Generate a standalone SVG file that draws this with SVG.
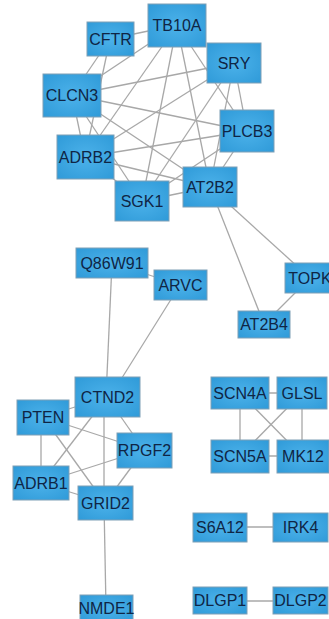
<svg xmlns="http://www.w3.org/2000/svg" width="329" height="619" viewBox="0 0 329 619">
<defs>
<radialGradient id="nf" cx="50%" cy="50%" r="70%">
<stop offset="0" stop-color="#4cb2ea"/>
<stop offset="1" stop-color="#2f9ad8"/>
</radialGradient>
<style>
.n rect{fill:url(#nf);stroke:#7f9fb6;stroke-width:1}
.n text{font-family:"Liberation Sans",Arial,sans-serif;font-size:16px;fill:#0f2545;text-anchor:middle}
#edges line{stroke:#a8a8a8;stroke-width:1.3}
</style>
</defs>
<rect width="329" height="619" fill="#ffffff"/>
<g id="edges">
<line x1="110" y1="39" x2="177" y2="25"/>
<line x1="110" y1="39" x2="72" y2="95"/>
<line x1="110" y1="39" x2="85" y2="157"/>
<line x1="177" y1="25" x2="72" y2="95"/>
<line x1="177" y1="25" x2="85" y2="157"/>
<line x1="177" y1="25" x2="142" y2="201"/>
<line x1="177" y1="25" x2="210" y2="187"/>
<line x1="177" y1="25" x2="247" y2="131"/>
<line x1="234" y1="63" x2="72" y2="95"/>
<line x1="234" y1="63" x2="85" y2="157"/>
<line x1="234" y1="63" x2="142" y2="201"/>
<line x1="234" y1="63" x2="210" y2="187"/>
<line x1="234" y1="63" x2="247" y2="131"/>
<line x1="72" y1="95" x2="247" y2="131"/>
<line x1="72" y1="95" x2="210" y2="187"/>
<line x1="72" y1="95" x2="85" y2="157"/>
<line x1="72" y1="95" x2="142" y2="201"/>
<line x1="247" y1="131" x2="85" y2="157"/>
<line x1="247" y1="131" x2="142" y2="201"/>
<line x1="247" y1="131" x2="210" y2="187"/>
<line x1="85" y1="157" x2="210" y2="187"/>
<line x1="85" y1="157" x2="142" y2="201"/>
<line x1="142" y1="201" x2="210" y2="187"/>
<line x1="210" y1="187" x2="264" y2="324"/>
<line x1="210" y1="187" x2="310" y2="278"/>
<line x1="264" y1="324" x2="310" y2="278"/>
<line x1="112" y1="263" x2="180" y2="285"/>
<line x1="112" y1="263" x2="106" y2="397"/>
<line x1="180" y1="285" x2="110" y2="397"/>
<line x1="107" y1="397" x2="43" y2="417"/>
<line x1="107" y1="397" x2="144" y2="450"/>
<line x1="104" y1="397" x2="104" y2="503"/>
<line x1="107" y1="397" x2="41" y2="483"/>
<line x1="43" y1="417" x2="144" y2="450"/>
<line x1="41" y1="417" x2="41" y2="483"/>
<line x1="43" y1="417" x2="105" y2="503"/>
<line x1="41" y1="483" x2="144" y2="450"/>
<line x1="41" y1="483" x2="105" y2="503"/>
<line x1="144" y1="450" x2="105" y2="503"/>
<line x1="104" y1="503" x2="106" y2="608"/>
<line x1="240" y1="393" x2="302" y2="393"/>
<line x1="240" y1="393" x2="240" y2="456"/>
<line x1="302" y1="393" x2="302" y2="456"/>
<line x1="240" y1="456" x2="302" y2="456"/>
<line x1="240" y1="393" x2="302" y2="456"/>
<line x1="302" y1="393" x2="240" y2="456"/>
<line x1="220" y1="527" x2="300" y2="527"/>
<line x1="220" y1="601" x2="300" y2="601"/>
</g>
<g id="TB10A" class="n"><rect x="148" y="4" width="58" height="43"/><text x="177" y="31">TB10A</text></g>
<g id="CFTR" class="n"><rect x="87" y="22" width="47" height="34"/><text x="110.5" y="45">CFTR</text></g>
<g id="SRY" class="n"><rect x="207" y="43" width="54" height="40"/><text x="234" y="69">SRY</text></g>
<g id="CLCN3" class="n"><rect x="43" y="74" width="58" height="43"/><text x="72" y="101">CLCN3</text></g>
<g id="PLCB3" class="n"><rect x="220" y="110" width="54" height="42"/><text x="247" y="137">PLCB3</text></g>
<g id="ADRB2" class="n"><rect x="57" y="135" width="57" height="44"/><text x="85.5" y="163">ADRB2</text></g>
<g id="AT2B2" class="n"><rect x="183" y="167" width="54" height="40"/><text x="210" y="193">AT2B2</text></g>
<g id="SGK1" class="n"><rect x="115" y="181" width="54" height="40"/><text x="142" y="207">SGK1</text></g>
<g id="Q86W91" class="n"><rect x="76" y="248" width="72" height="30"/><text x="112" y="269">Q86W91</text></g>
<g id="ARVC" class="n"><rect x="154" y="270" width="53" height="30"/><text x="180.5" y="291">ARVC</text></g>
<g id="TOPK" class="n"><rect x="285" y="263" width="50" height="30"/><text x="310" y="284">TOPK</text></g>
<g id="AT2B4" class="n"><rect x="238" y="311" width="52" height="27"/><text x="264" y="330">AT2B4</text></g>
<g id="CTND2" class="n"><rect x="75" y="377" width="65" height="40"/><text x="107.5" y="403">CTND2</text></g>
<g id="PTEN" class="n"><rect x="17" y="400" width="52" height="35"/><text x="43" y="423">PTEN</text></g>
<g id="RPGF2" class="n"><rect x="117" y="433" width="55" height="35"/><text x="144.5" y="456">RPGF2</text></g>
<g id="ADRB1" class="n"><rect x="13" y="466" width="56" height="34"/><text x="41" y="489">ADRB1</text></g>
<g id="GRID2" class="n"><rect x="78" y="486" width="55" height="34"/><text x="105.5" y="509">GRID2</text></g>
<g id="NMDE1" class="n"><rect x="80" y="595" width="53" height="27"/><text x="106.5" y="614">NMDE1</text></g>
<g id="SCN4A" class="n"><rect x="211" y="377" width="58" height="32"/><text x="240" y="399">SCN4A</text></g>
<g id="GLSL" class="n"><rect x="277" y="377" width="50" height="32"/><text x="302" y="399">GLSL</text></g>
<g id="SCN5A" class="n"><rect x="211" y="440" width="58" height="33"/><text x="240" y="462">SCN5A</text></g>
<g id="MK12" class="n"><rect x="277" y="440" width="52" height="33"/><text x="303" y="462">MK12</text></g>
<g id="S6A12" class="n"><rect x="193" y="513" width="54" height="29"/><text x="220" y="533">S6A12</text></g>
<g id="IRK4" class="n"><rect x="273" y="513" width="55" height="29"/><text x="300.5" y="533">IRK4</text></g>
<g id="DLGP1" class="n"><rect x="193" y="587" width="54" height="27"/><text x="220" y="606">DLGP1</text></g>
<g id="DLGP2" class="n"><rect x="273" y="587" width="55" height="27"/><text x="300.5" y="606">DLGP2</text></g>
</svg>
